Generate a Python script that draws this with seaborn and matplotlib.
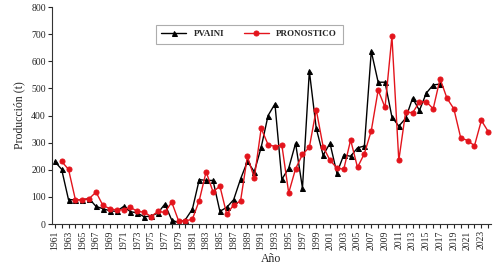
import matplotlib
matplotlib.use("Agg")
import matplotlib.pyplot as plt
import seaborn as sns
import pandas as pd
import numpy as np

years_pvaini = list(range(1961, 2018))
pvaini = [231, 202, 90, 90, 90, 94, 65, 57, 49, 47, 65, 46, 41, 27, 30, 41, 74,
          15, 5, 17, 55, 164, 161, 161, 47, 62, 90, 166, 231, 193, 283, 400, 443,
          165, 206, 298, 133, 564, 353, 254, 298, 188, 255, 250, 281, 288, 637,
          523, 523, 395, 361, 390, 464, 419, 483, 513, 516]

years_pron = list(range(1962, 2025))
pronostico = [231, 202, 90, 90, 94, 118, 69, 57, 52, 53, 62, 47, 44, 28, 47, 43,
              81, 12, 12, 18, 87, 193, 119, 140, 36, 71, 85, 250, 170, 353, 293,
              286, 292, 115, 204, 257, 283, 422, 286, 235, 207, 202, 310, 209,
              260, 344, 494, 430, 692, 235, 414, 410, 450, 451, 425, 536, 464,
              425, 318, 308, 289, 382, 341]

xtick_labels = [str(y) for y in range(1961, 2024, 2)]

sns.set_theme(style="ticks")
plt.rcParams['font.family'] = ['Liberation Serif', 'DejaVu Serif']

df1 = pd.DataFrame({"Año": years_pvaini, "v": pvaini})
df2 = pd.DataFrame({"Año": years_pron, "v": pronostico})

fig, ax = plt.subplots(figsize=(5, 2.71), dpi=100)
fig.subplots_adjust(left=0.104, right=0.982, top=0.974, bottom=0.173)

sns.lineplot(data=df1, x="Año", y="v", ax=ax, color="black", marker="^",
             markersize=3.6, markeredgecolor="black", linewidth=1, label="PVAINI")
sns.lineplot(data=df2, x="Año", y="v", ax=ax, color="#E3141C", marker="o",
             markersize=3.6, markeredgecolor="#E3141C", linewidth=1, label="PRONOSTICO")

ax.set_xlim(1960.6, 2024.4)
ax.set_ylim(0, 800)
ax.set_yticks(range(0, 801, 100))
ax.set_xticks([int(s) for s in xtick_labels])
ax.set_xticklabels(xtick_labels, rotation=90)
ax.set_xticks(range(1961, 2025), minor=True)
ax.tick_params(axis='both', which='major', labelsize=7, length=3, width=0.8, direction='out', pad=1.5)
ax.tick_params(axis='x', which='minor', length=3, width=0.8, direction='out')
ax.set_xlabel("Año", fontsize=8.5, labelpad=2)
ax.set_ylabel("Producción (t)", fontsize=8.5)
sns.despine(ax=ax)
for s in ["left", "bottom"]:
    ax.spines[s].set_linewidth(0.8)
    ax.spines[s].set_color("#333333")

leg = ax.legend(loc="upper center", bbox_to_anchor=(0.449, 0.94), ncol=2,
                frameon=True, fancybox=False, edgecolor="#999999",
                handlelength=2.8, columnspacing=2.2, borderpad=0.6,
                prop={"weight": "bold", "size": 6.5})
leg.get_frame().set_linewidth(0.8)

fig.savefig("out.png", dpi=100)
